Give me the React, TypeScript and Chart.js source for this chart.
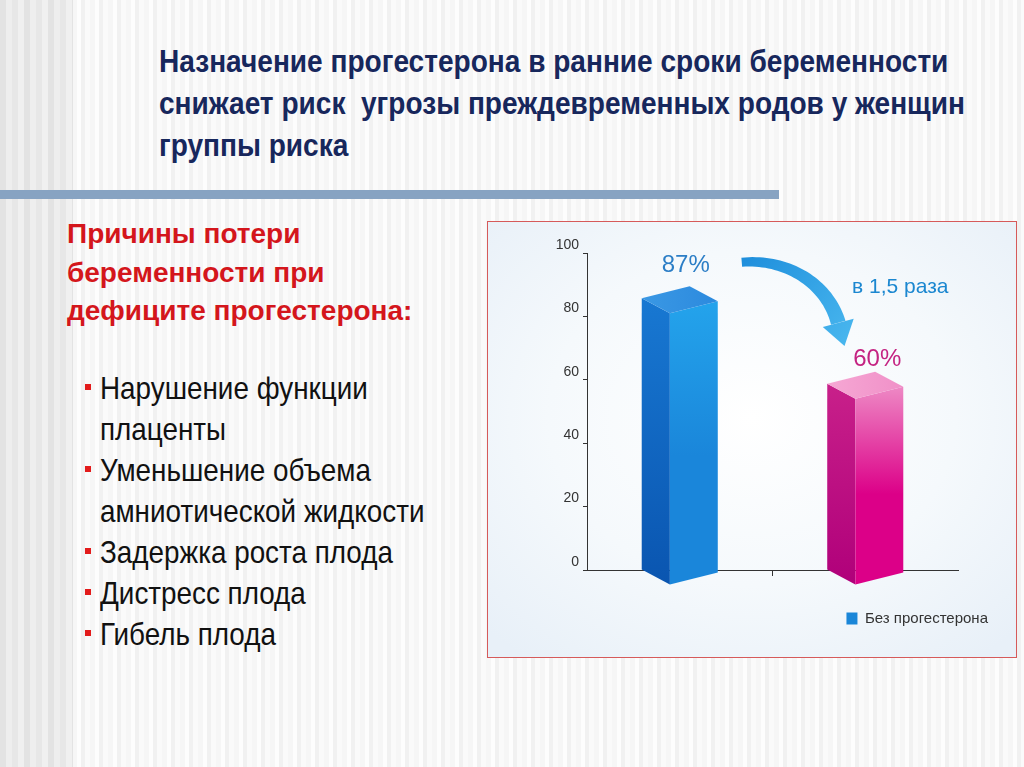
import React, { useEffect, useRef } from 'react';
import { Chart, registerables } from 'chart.js';

Chart.register(...registerables);

// ---------- data ----------
const categories = ['Без прогестерона', 'С прогестероном'];
const values = [87, 60];
const valueLabels = ['87%', '60%'];
const yTicks = [0, 20, 40, 60, 80, 100];
const legendLabel = 'Без прогестерона';
const ratioLabel = 'в 1,5 раза';

const titleLines = [
  'Назначение прогестерона в ранние сроки беременности',
  'снижает риск  угрозы преждевременных родов у женщин',
  'группы риска',
];
const headingLines = ['Причины потери', 'беременности при', 'дефиците прогестерона:'];
const bulletItems = [
  ['Нарушение функции', 'плаценты'],
  ['Уменьшение объема', 'амниотической жидкости'],
  ['Задержка роста плода'],
  ['Дистресс плода'],
  ['Гибель плода'],
];

// ---------- styles ----------
const SANS = '"Liberation Sans", Arial, sans-serif';
const barColors = ['#1a86d8', '#de1a8c'];
const labelColors = ['#2c7ec6', '#c42382'];
const palettes = [
  { sideTop: '#1878d2', sideBot: '#0a55b0', frontTop: '#24a4ec', frontBot: '#1a86da', topA: '#3a98e4', topB: '#2c8ade' },
  { sideTop: '#c8208a', sideBot: '#b0007a', frontTop: '#ee8cc6', frontBot: '#dc0088', topA: '#f6a8d4', topB: '#f090c8' },
];

const bar3d = {
  id: 'bar3d',
  beforeDatasetDraw() {
    return false;
  },
  afterDatasetsDraw(chart: any) {
    const ctx = chart.ctx as CanvasRenderingContext2D;
    const meta = chart.getDatasetMeta(0);
    const pts: any[] = [];
    meta.data.forEach((el: any, i: number) => {
      const { x, y, base, width } = el.getProps(['x', 'y', 'base', 'width'], true);
      pts.push({ x, y });
      const W = width;
      const L = x - W / 2;
      const R = x + W / 2;
      const Bx = L + 0.37 * W;
      const Dx = L + 0.63 * W;
      const ay = y + 4;
      const p = palettes[i];
      ctx.save();
      // left face
      let g = ctx.createLinearGradient(0, ay, 0, base + 15);
      g.addColorStop(0, p.sideTop);
      g.addColorStop(1, p.sideBot);
      ctx.fillStyle = g;
      ctx.beginPath();
      ctx.moveTo(L, ay);
      ctx.lineTo(Bx, ay + 15);
      ctx.lineTo(Bx, base + 15);
      ctx.lineTo(L, base);
      ctx.closePath();
      ctx.fill();
      // front face
      g = ctx.createLinearGradient(0, ay, 0, base + 15);
      g.addColorStop(0, p.frontTop);
      g.addColorStop(0.55, p.frontBot);
      g.addColorStop(1, p.frontBot);
      ctx.fillStyle = g;
      ctx.beginPath();
      ctx.moveTo(Bx, ay + 15);
      ctx.lineTo(R, ay + 3);
      ctx.lineTo(R, base + 3);
      ctx.lineTo(Bx, base + 15);
      ctx.closePath();
      ctx.fill();
      // top face
      g = ctx.createLinearGradient(L, ay, R, ay);
      g.addColorStop(0, p.topA);
      g.addColorStop(1, p.topB);
      ctx.fillStyle = g;
      ctx.beginPath();
      ctx.moveTo(L, ay);
      ctx.lineTo(Bx, ay + 15);
      ctx.lineTo(R, ay + 3);
      ctx.lineTo(Dx, ay - 12);
      ctx.closePath();
      ctx.fill();
      ctx.restore();
    });
    if (pts.length < 2) return;
    const [p0, p1] = pts;
    ctx.save();
    ctx.textAlign = 'center';
    ctx.textBaseline = 'middle';
    ctx.font = `24px ${SANS}`;
    ctx.fillStyle = labelColors[0];
    ctx.fillText(valueLabels[0], p0.x + 6, p0.y - 29);
    ctx.fillStyle = labelColors[1];
    ctx.fillText(valueLabels[1], p1.x + 12, p1.y - 20);
    ctx.font = `21px ${SANS}`;
    ctx.fillStyle = '#1b87d0';
    ctx.fillText(ratioLabel, p1.x + 35, p0.y - 7);

    // curved arrow
    const S = { x: p0.x + 62, y: p0.y - 32 };
    const C1 = { x: p0.x + 110, y: p0.y - 36 };
    const C2 = { x: p1.x - 37, y: p1.y - 94 };
    const E = { x: p1.x - 27, y: p1.y - 57 };
    const bez = (t: number) => {
      const u = 1 - t;
      return {
        x: u * u * u * S.x + 3 * u * u * t * C1.x + 3 * u * t * t * C2.x + t * t * t * E.x,
        y: u * u * u * S.y + 3 * u * u * t * C1.y + 3 * u * t * t * C2.y + t * t * t * E.y,
      };
    };
    const der = (t: number) => {
      const u = 1 - t;
      return {
        x: 3 * u * u * (C1.x - S.x) + 6 * u * t * (C2.x - C1.x) + 3 * t * t * (E.x - C2.x),
        y: 3 * u * u * (C1.y - S.y) + 6 * u * t * (C2.y - C1.y) + 3 * t * t * (E.y - C2.y),
      };
    };
    const N = 40;
    const left: any[] = [];
    const right: any[] = [];
    for (let k = 0; k <= N; k++) {
      const t = k / N;
      const q = bez(t);
      const d = der(t);
      const len = Math.hypot(d.x, d.y) || 1;
      const nx = -d.y / len;
      const ny = d.x / len;
      const w = (9 + 6 * t) / 2;
      left.push({ x: q.x + nx * w, y: q.y + ny * w });
      right.push({ x: q.x - nx * w, y: q.y - ny * w });
    }
    const dE = der(1);
    const lE = Math.hypot(dE.x, dE.y) || 1;
    const dir = { x: dE.x / lE, y: dE.y / lE };
    const perp = { x: -dir.y, y: dir.x };
    const tip = { x: E.x + dir.x * 24, y: E.y + dir.y * 24 };
    const ag = ctx.createLinearGradient(S.x, S.y, tip.x, tip.y);
    ag.addColorStop(0, '#1f8fdc');
    ag.addColorStop(1, '#48b6ee');
    ctx.fillStyle = ag;
    ctx.beginPath();
    left.forEach((q, k) => (k === 0 ? ctx.moveTo(q.x, q.y) : ctx.lineTo(q.x, q.y)));
    for (let k = right.length - 1; k >= 0; k--) ctx.lineTo(right[k].x, right[k].y);
    ctx.closePath();
    ctx.fill();
    ctx.beginPath();
    ctx.moveTo(E.x + perp.x * 16, E.y + perp.y * 16);
    ctx.lineTo(tip.x, tip.y);
    ctx.lineTo(E.x - perp.x * 16, E.y - perp.y * 16);
    ctx.closePath();
    ctx.fill();
    ctx.restore();
  },
};

function BarChart() {
  const ref = useRef<HTMLCanvasElement | null>(null);
  useEffect(() => {
    if (!ref.current) return;
    const chart = new Chart(ref.current, {
      type: 'bar',
      data: {
        labels: categories,
        datasets: [
          {
            label: legendLabel,
            data: values,
            backgroundColor: barColors,
            categoryPercentage: 1,
            barPercentage: 0.41,
          },
        ],
      },
      options: {
        animation: false,
        responsive: true,
        maintainAspectRatio: false,
        layout: { padding: { top: 31, left: 0, right: 18, bottom: 21 } },
        plugins: {
          legend: {
            position: 'bottom',
            align: 'end',
            labels: {
              color: '#333',
              font: { family: SANS, size: 15 },
              boxWidth: 11,
              boxHeight: 12,
              padding: 10,
              generateLabels: () => [
                {
                  text: legendLabel,
                  fillStyle: barColors[0],
                  strokeStyle: barColors[0],
                  lineWidth: 0,
                  hidden: false,
                  datasetIndex: 0,
                  fontColor: '#333',
                },
              ],
            },
          },
          tooltip: { enabled: false },
        },
        scales: {
          x: {
            offset: true,
            grid: {
              offset: true,
              drawOnChartArea: false,
              drawTicks: true,
              tickLength: 6,
              color: (c: any) => (c.index === 1 ? '#333' : 'rgba(0,0,0,0)'),
            },
            border: { display: true, color: '#333', width: 1 },
            ticks: { display: false },
            afterFit: (s: any) => {
              s.height = 31;
            },
          },
          y: {
            min: yTicks[0],
            max: yTicks[yTicks.length - 1],
            ticks: {
              stepSize: yTicks[1] - yTicks[0],
              color: '#333',
              font: { family: SANS, size: 14 },
              padding: 4,
              labelOffset: -8,
            },
            grid: { drawOnChartArea: false, tickLength: 4, color: '#333' },
            border: { color: '#333', width: 1 },
            afterFit: (s: any) => {
              s.width = 99;
            },
          },
          spacer: {
            type: 'linear',
            position: 'right',
            display: true,
            grid: { display: false },
            border: { display: false },
            ticks: { display: false },
            afterFit: (s: any) => {
              s.width = 40;
            },
          },
        },
      } as any,
      plugins: [bar3d],
    });
    return () => chart.destroy();
  }, []);
  return <canvas ref={ref} />;
}

export default function App() {
  const stripes =
    'repeating-linear-gradient(90deg, #f6f6f6 0px, #f6f6f6 5px, #fdfdfd 5px, #fdfdfd 9px, #f1f1f1 9px, #f1f1f1 13px, #fafafa 13px, #fafafa 18px)';
  const darkStripes =
    'repeating-linear-gradient(90deg, #e3e3e3 0px, #e3e3e3 6px, #eeeeee 6px, #eeeeee 12px, #e7e7e7 12px, #e7e7e7 18px, #f0f0f0 18px, #f0f0f0 24px)';
  return (
    <div
      style={{
        position: 'fixed',
        left: 0,
        top: 0,
        width: 1024,
        height: 767,
        overflow: 'hidden',
        background: stripes,
      }}
    >
      <div style={{ position: 'absolute', left: 0, top: 0, width: 73, height: 767, background: darkStripes }} />
      <div
        style={{
          position: 'absolute',
          left: 159,
          top: 41,
          fontFamily: SANS,
          fontWeight: 'bold',
          fontSize: 31,
          lineHeight: '42px',
          color: '#17275c',
          whiteSpace: 'pre',
          transform: 'scaleX(0.905)',
          transformOrigin: '0 0',
        }}
      >
        {titleLines.map((t, i) => (
          <div key={i}>{t}</div>
        ))}
      </div>
      <div style={{ position: 'absolute', left: 0, top: 190, width: 779, height: 9, background: '#87a3c2' }} />
      <div
        style={{
          position: 'absolute',
          left: 67,
          top: 215,
          fontFamily: SANS,
          fontWeight: 'bold',
          fontSize: 28,
          lineHeight: '38.5px',
          color: '#d4161c',
          whiteSpace: 'pre',
        }}
      >
        {headingLines.map((t, i) => (
          <div key={i}>{t}</div>
        ))}
      </div>
      <div
        style={{
          position: 'absolute',
          left: 85,
          top: 368,
          fontFamily: SANS,
          fontSize: 32,
          lineHeight: '41px',
          color: '#111',
          whiteSpace: 'pre',
        }}
      >
        {bulletItems.map((lines, i) => (
          <div key={i} style={{ position: 'relative' }}>
            <span
              style={{ position: 'absolute', left: 0, top: 16, width: 6, height: 6, background: '#e31b1b' }}
            />
            <div style={{ paddingLeft: 15 }}>
              <div style={{ transform: 'scaleX(0.87)', transformOrigin: '0 0' }}>
                {lines.map((l, j) => (
                  <div key={j}>{l}</div>
                ))}
              </div>
            </div>
          </div>
        ))}
      </div>
      <div
        style={{
          position: 'absolute',
          left: 487,
          top: 221,
          width: 528,
          height: 435,
          border: '1px solid #d65a5a',
          background:
            'radial-gradient(ellipse 70% 70% at 50% 45%, #ffffff 0%, #f5f9fc 55%, #e8f0f8 100%)',
        }}
      >
        <div style={{ position: 'relative', width: 528, height: 435 }}>
          <BarChart />
        </div>
      </div>
    </div>
  );
}
